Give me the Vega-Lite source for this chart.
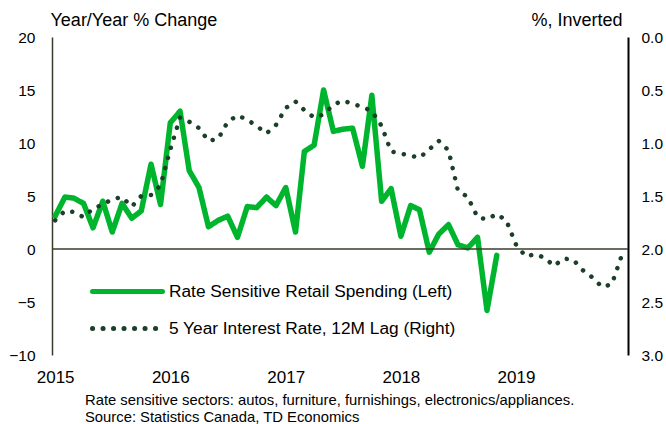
{
  "$schema": "https://vega.github.io/schema/vega-lite/v6.json",
  "width": 576,
  "height": 318,
  "autosize": "none",
  "padding": {"left": 52, "top": 37, "right": 38, "bottom": 69},
  "config": {"view": {"stroke": null}, "font": "Liberation Sans", "axis": {"grid": false, "ticks": false, "labelColor": "#000", "titleColor": "#000"}},
  "title": {
    "text": ["Rate sensitive sectors: autos, furniture, furnishings, electronics/appliances.", "Source: Statistics Canada, TD Economics"],
    "orient": "bottom", "anchor": "start", "frame": "group", "dx": 33, "offset": 8, "fontSize": 14.8, "fontWeight": "normal", "lineHeight": 16.5, "color": "#000"
  },
  "datasets": {
    "retail": [
      {"date": "2015-01-01", "value": 3.1}, {"date": "2015-02-01", "value": 4.9}, {"date": "2015-03-01", "value": 4.8}, {"date": "2015-04-01", "value": 4.3},
      {"date": "2015-05-01", "value": 2.0}, {"date": "2015-06-01", "value": 4.5}, {"date": "2015-07-01", "value": 1.6}, {"date": "2015-08-01", "value": 4.3},
      {"date": "2015-09-01", "value": 2.9}, {"date": "2015-10-01", "value": 3.6}, {"date": "2015-11-01", "value": 8.0}, {"date": "2015-12-01", "value": 4.2},
      {"date": "2016-01-01", "value": 11.9}, {"date": "2016-02-01", "value": 13.0}, {"date": "2016-03-01", "value": 7.4}, {"date": "2016-04-01", "value": 5.8},
      {"date": "2016-05-01", "value": 2.1}, {"date": "2016-06-01", "value": 2.7}, {"date": "2016-07-01", "value": 3.1}, {"date": "2016-08-01", "value": 1.1},
      {"date": "2016-09-01", "value": 4.0}, {"date": "2016-10-01", "value": 3.9}, {"date": "2016-11-01", "value": 4.9}, {"date": "2016-12-01", "value": 4.1},
      {"date": "2017-01-01", "value": 5.8}, {"date": "2017-02-01", "value": 1.6}, {"date": "2017-03-01", "value": 9.2}, {"date": "2017-04-01", "value": 9.8},
      {"date": "2017-05-01", "value": 15.0}, {"date": "2017-06-01", "value": 11.1}, {"date": "2017-07-01", "value": 11.3}, {"date": "2017-08-01", "value": 11.4},
      {"date": "2017-09-01", "value": 7.8}, {"date": "2017-10-01", "value": 14.5}, {"date": "2017-11-01", "value": 4.5}, {"date": "2017-12-01", "value": 5.7},
      {"date": "2018-01-01", "value": 1.2}, {"date": "2018-02-01", "value": 4.1}, {"date": "2018-03-01", "value": 3.7}, {"date": "2018-04-01", "value": -0.3},
      {"date": "2018-05-01", "value": 1.4}, {"date": "2018-06-01", "value": 2.3}, {"date": "2018-07-01", "value": 0.4}, {"date": "2018-08-01", "value": 0.1},
      {"date": "2018-09-01", "value": 1.1}, {"date": "2018-10-01", "value": -5.8}, {"date": "2018-11-01", "value": -0.6}
    ],
    "rate": [
      {"date": "2015-01-01", "value": 1.73}, {"date": "2015-02-01", "value": 1.64}, {"date": "2015-03-01", "value": 1.65}, {"date": "2015-04-01", "value": 1.70},
      {"date": "2015-05-01", "value": 1.62}, {"date": "2015-06-01", "value": 1.58}, {"date": "2015-07-01", "value": 1.53}, {"date": "2015-08-01", "value": 1.51},
      {"date": "2015-09-01", "value": 1.60}, {"date": "2015-10-01", "value": 1.50}, {"date": "2015-11-01", "value": 1.49}, {"date": "2015-12-01", "value": 1.40},
      {"date": "2016-01-01", "value": 1.06}, {"date": "2016-02-01", "value": 0.76}, {"date": "2016-03-01", "value": 0.80}, {"date": "2016-04-01", "value": 0.86},
      {"date": "2016-05-01", "value": 0.98}, {"date": "2016-06-01", "value": 0.96}, {"date": "2016-07-01", "value": 0.80}, {"date": "2016-08-01", "value": 0.74},
      {"date": "2016-09-01", "value": 0.78}, {"date": "2016-10-01", "value": 0.84}, {"date": "2016-11-01", "value": 0.91}, {"date": "2016-12-01", "value": 0.83},
      {"date": "2017-01-01", "value": 0.67}, {"date": "2017-02-01", "value": 0.61}, {"date": "2017-03-01", "value": 0.69}, {"date": "2017-04-01", "value": 0.76},
      {"date": "2017-05-01", "value": 0.73}, {"date": "2017-06-01", "value": 0.64}, {"date": "2017-07-01", "value": 0.60}, {"date": "2017-08-01", "value": 0.63},
      {"date": "2017-09-01", "value": 0.66}, {"date": "2017-10-01", "value": 0.70}, {"date": "2017-11-01", "value": 0.84}, {"date": "2017-12-01", "value": 1.08},
      {"date": "2018-01-01", "value": 1.10}, {"date": "2018-02-01", "value": 1.12}, {"date": "2018-03-01", "value": 1.14}, {"date": "2018-04-01", "value": 1.06},
      {"date": "2018-05-01", "value": 0.98}, {"date": "2018-06-01", "value": 1.07}, {"date": "2018-07-01", "value": 1.45}, {"date": "2018-08-01", "value": 1.51},
      {"date": "2018-09-01", "value": 1.70}, {"date": "2018-10-01", "value": 1.72}, {"date": "2018-11-01", "value": 1.67}, {"date": "2018-12-01", "value": 1.73},
      {"date": "2019-01-01", "value": 1.96}, {"date": "2019-02-01", "value": 2.07}, {"date": "2019-03-01", "value": 2.05}, {"date": "2019-04-01", "value": 2.08},
      {"date": "2019-05-01", "value": 2.16}, {"date": "2019-06-01", "value": 2.09}, {"date": "2019-07-01", "value": 2.10}, {"date": "2019-08-01", "value": 2.20},
      {"date": "2019-09-01", "value": 2.27}, {"date": "2019-10-01", "value": 2.36}, {"date": "2019-11-01", "value": 2.33}, {"date": "2019-12-01", "value": 2.07}
    ]
  },
  "layer": [
    {
      "layer": [
        {
          "data": {"name": "retail"},
          "transform": [{"calculate": "'Rate Sensitive Retail Spending (Left)'", "as": "series"}],
          "mark": {"type": "line", "strokeWidth": 5.5, "strokeJoin": "round", "strokeCap": "round"},
          "encoding": {
            "x": {"field": "date", "type": "temporal",
              "scale": {"domain": [{"year": 2014, "month": 12, "date": 22}, {"year": 2019, "month": 12, "date": 22}]},
              "axis": {"orient": "bottom", "domain": false, "format": "%Y", "tickCount": {"interval": "year", "step": 1}, "labelFontSize": 17, "labelPadding": 14, "labelFlush": false, "title": null}},
            "y": {"field": "value", "type": "quantitative", "scale": {"domain": [-10, 20]},
              "axis": {"orient": "left", "values": [-10, -5, 0, 5, 10, 15, 20], "domainColor": "#3b3b2c", "domainWidth": 1.5, "labelFontSize": 15.5, "labelPadding": 17,
                "title": "Year/Year % Change", "titleAngle": 0, "titleAlign": "left", "titleBaseline": "alphabetic", "titleX": -2, "titleY": -12, "titleFontSize": 18, "titleFontWeight": "normal"}},
            "stroke": {"field": "series", "type": "nominal",
              "scale": {"domain": ["Rate Sensitive Retail Spending (Left)", "5 Year Interest Rate, 12M Lag (Right)"], "range": ["#00b52e", "#1c3f2a"]},
              "legend": {"orient": "none", "legendX": 66, "legendY": 245, "title": null, "symbolType": "M-5,0H5", "symbolSize": 196, "symbolStrokeWidth": 5,
                "labelFontSize": 17.3, "labelOffset": 32, "rowPadding": 16, "labelColor": "#000", "labelLimit": 500,
                "encoding": {"symbols": {"strokeCap": {"value": "round"}}}}},
            "strokeDash": {"field": "series", "type": "nominal",
              "scale": {"domain": ["Rate Sensitive Retail Spending (Left)", "5 Year Interest Rate, 12M Lag (Right)"], "range": [[1, 0], [0.1, 10.4]]}}
          }
        },
        {
          "data": {"values": [{}]},
          "mark": {"type": "rule", "color": "#3b3b2c", "strokeWidth": 1.5},
          "encoding": {"y": {"datum": 0, "type": "quantitative"}}
        }
      ]
    },
    {
      "data": {"name": "rate"},
      "transform": [{"calculate": "'5 Year Interest Rate, 12M Lag (Right)'", "as": "series"}],
      "mark": {"type": "line", "strokeWidth": 4.5, "strokeCap": "round", "strokeJoin": "round"},
      "encoding": {
        "x": {"field": "date", "type": "temporal"},
        "y": {"field": "value", "type": "quantitative", "scale": {"domain": [0, 3], "reverse": true},
          "axis": {"orient": "right", "values": [0, 0.5, 1, 1.5, 2, 2.5, 3], "format": ".1f", "domainColor": "#000", "domainWidth": 2, "labelFontSize": 15.5, "labelPadding": 13,
            "title": "%, Inverted", "titleAngle": 0, "titleAlign": "right", "titleBaseline": "alphabetic", "titleX": -6, "titleY": -12, "titleFontSize": 18, "titleFontWeight": "normal"}},
        "stroke": {"field": "series", "type": "nominal"},
        "strokeDash": {"field": "series", "type": "nominal"}
      }
    }
  ],
  "resolve": {"scale": {"y": "independent"}}
}
